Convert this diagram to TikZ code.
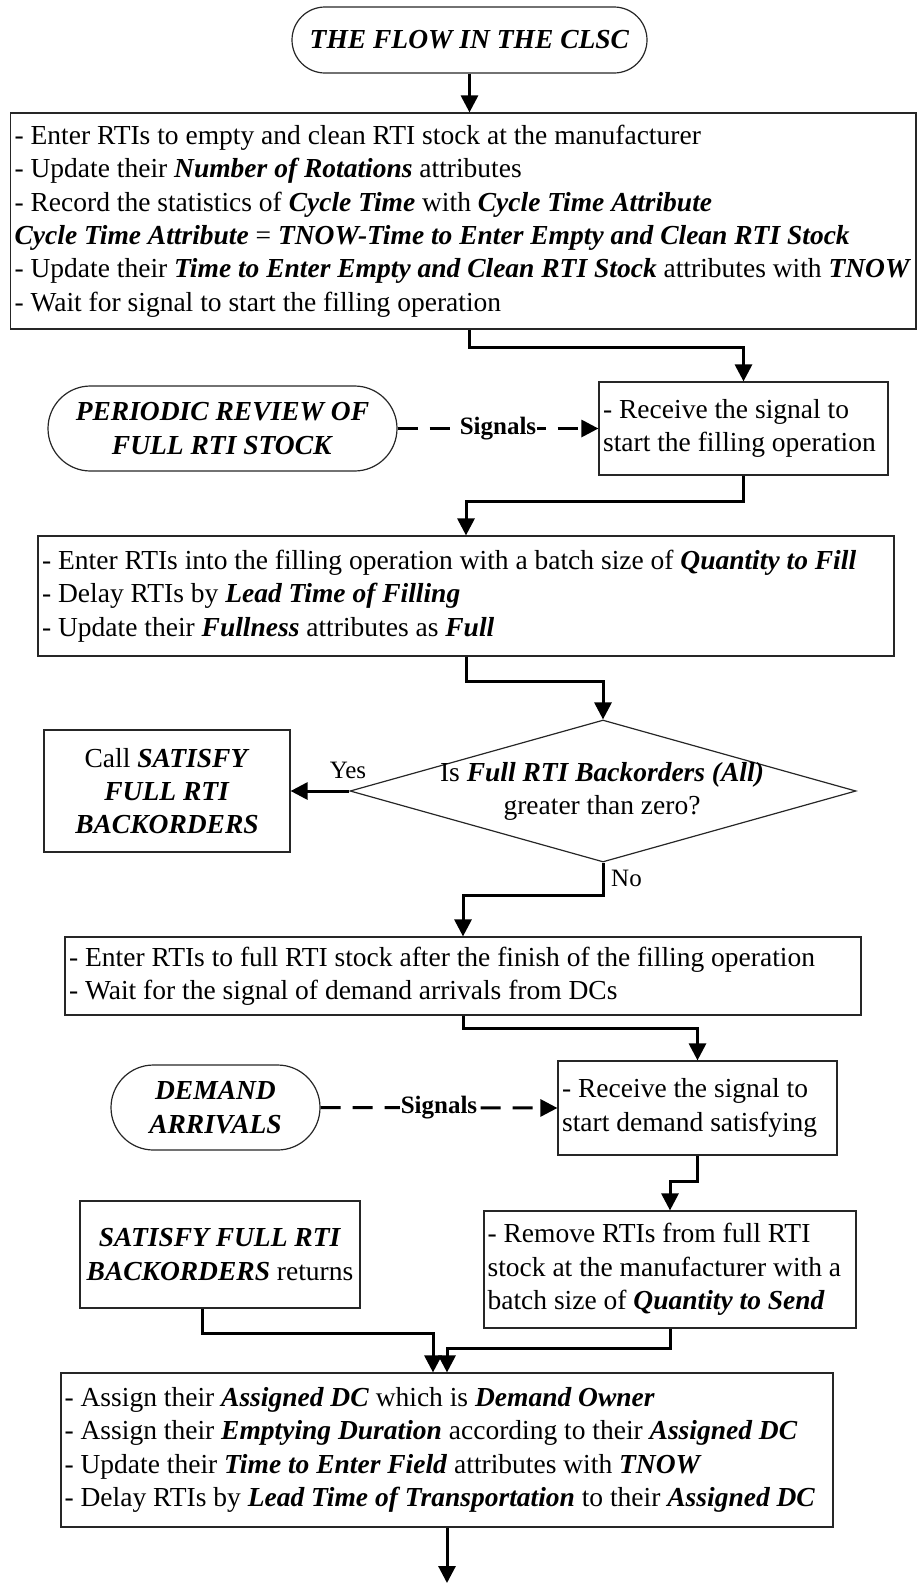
\documentclass[tikz,border=0pt]{standalone}
\usepackage{fontspec}
\setmainfont{Liberation Serif}
\usetikzlibrary{arrows.meta,shapes.geometric,calc}
\newcommand{\bfit}[1]{\textbf{\textit{#1}}}
\begin{document}
\begin{tikzpicture}[x=1pt,y=-1pt,
  every node/.style={font=\fontsize{27.5}{33.4}\selectfont},
  box/.style={draw=black!85, line width=1.2pt, rectangle, inner sep=0pt, align=center},
  term/.style={box, rounded corners=#1},
  txt/.style={align=left, anchor=west, inner sep=0pt},
  lbl/.style={font=\fontsize{25}{30}\selectfont, inner sep=1pt},
  conn/.style={line width=3pt, -{Triangle[length=17pt,width=17pt]}},
  sig/.style={conn, dash pattern=on 20pt off 12pt},
  dia/.style={draw=black!85, shape=diamond, line width=1.2pt, inner sep=0pt}
]
\useasboundingbox (0,0) rectangle (917,1583);

% terminals
\node[term=33, minimum width=355, minimum height=66] (t1) at (469.5,40) {\bfit{THE FLOW IN THE CLSC}};
\node[term=42.5, minimum width=349, minimum height=85] (t2) at (222.5,428.5) {\bfit{PERIODIC REVIEW OF}\\\bfit{FULL RTI STOCK}};
\node[term=42.5, minimum width=209, minimum height=85] (t3) at (215.5,1107.5) {\bfit{DEMAND}\\\bfit{ARRIVALS}};

% process boxes
\node[box, minimum width=905.5, minimum height=216] (b1) at (463.25,221) {};
\node[txt] (b1t) at ([xshift=4.5]b1.west) {%
- Enter RTIs to empty and clean RTI stock at the manufacturer\\
- Update their \bfit{Number of Rotations} attributes\\
- Record the statistics of \bfit{Cycle Time} with \bfit{Cycle Time Attribute}\\
\bfit{Cycle Time Attribute} = \bfit{TNOW-Time to Enter Empty and Clean RTI Stock}\\
- Update their \bfit{Time to Enter Empty and Clean RTI Stock} attributes with \bfit{TNOW}\\
- Wait for signal to start the filling operation};

\node[box, minimum width=289, minimum height=93] (b2) at (743.5,428.5) {};
\node[txt] (b2t) at ([xshift=4.5]b2.west) {- Receive the signal to\\start the filling operation};

\node[box, minimum width=856, minimum height=120] (b3) at (466,596) {};
\node[txt] (b3t) at ([xshift=4.5]b3.west) {%
- Enter RTIs into the filling operation with a batch size of \bfit{Quantity to Fill}\\
- Delay RTIs by \bfit{Lead Time of Filling}\\
- Update their \bfit{Fullness} attributes as \bfit{Full}};

% decision
\node[dia, minimum width=506, minimum height=142] (d1) at (603,791) {};
\node[align=center, inner sep=0pt] (d1t) at (602,791.5) {Is \bfit{Full RTI Backorders (All)}\\greater than zero?};

\node[box, minimum width=246, minimum height=122] (b4) at (167,791) {Call \bfit{SATISFY}\\\bfit{FULL RTI}\\\bfit{BACKORDERS}};

\node[box, minimum width=796, minimum height=78] (b5) at (463,976) {};
\node[txt] (b5t) at ([xshift=4.5]b5.west) {%
- Enter RTIs to full RTI stock after the finish of the filling operation\\
- Wait for the signal of demand arrivals from DCs};

\node[box, minimum width=279, minimum height=94] (b6) at (697.5,1108) {};
\node[txt] (b6t) at ([xshift=4.5]b6.west) {- Receive the signal to\\start demand satisfying};

\node[box, minimum width=372, minimum height=117] (b7) at (670,1269.5) {};
\node[txt] (b7t) at ([xshift=4]b7.west) {%
- Remove RTIs from full RTI\\
stock at the manufacturer with a\\
batch size of \bfit{Quantity to Send}};

\node[box, minimum width=280, minimum height=107] (b8) at (220,1254.5) {\bfit{SATISFY FULL RTI}\\\bfit{BACKORDERS} returns};

\node[box, minimum width=772, minimum height=154] (b9) at (447,1450) {};
\node[txt] (b9t) at ([xshift=4]b9.west) {%
- Assign their \bfit{Assigned DC} which is \bfit{Demand Owner}\\
- Assign their \bfit{Emptying Duration} according to their \bfit{Assigned DC}\\
- Update their \bfit{Time to Enter Field} attributes with \bfit{TNOW}\\
- Delay RTIs by \bfit{Lead Time of Transportation} to their \bfit{Assigned DC}};

\coordinate (end) at (447,1583);

% connectors
\draw[conn] (t1.south) -- (t1.south |- b1.north);
\draw[conn] (b1.south -| t1.south) -- ++(0,18) -| (b2.north);
\draw[conn] (b2.south) -- ++(0,26) -| (b3.north);
\draw[conn] (b3.south) -- ++(0,25) -| (d1.north);
\draw[conn] (d1.west) -- (b4.east);
\node[lbl] (yes) at (348,770) {Yes};
\draw[conn] (d1.south) -- ++(0,33) -| (b5.north);
\node[lbl, anchor=west] (no) at (610,878) {No};
\draw[conn] (b5.south) -- ++(0,13) -| (b6.north);
\draw[conn] (b6.south) -- ++(0,26) -| (b7.north);
\draw[conn] ([xshift=-18]b8.south) -- ++(0,25) -| ([xshift=-14]b9.north);
\draw[conn] (b7.south) -- ++(0,20) -| (b9.north);
\draw[conn] (b9.south) -- (end);

% signal links
\draw[sig] (t2.east) -- (b2.west) node[lbl, midway, fill=white, font=\fontsize{25}{30}\selectfont\bfseries] (s1) {Signals};
\draw[sig] (t3.east) -- (b6.west) node[lbl, midway, fill=white, font=\fontsize{25}{30}\selectfont\bfseries] (s2) {Signals};
\end{tikzpicture}
\end{document}
